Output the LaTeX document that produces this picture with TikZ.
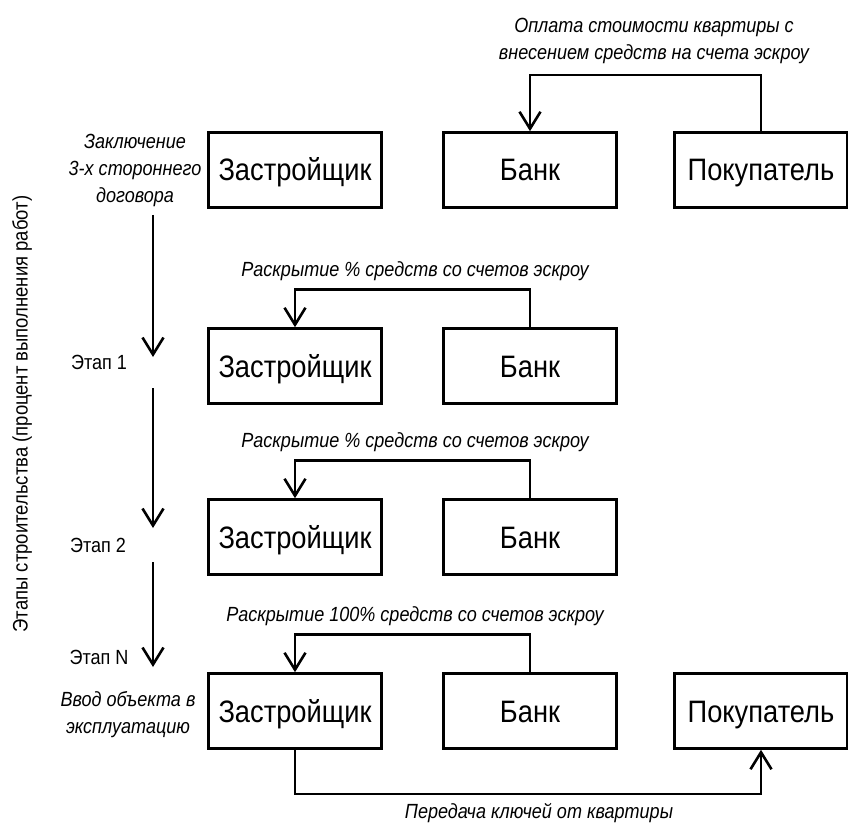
\documentclass[tikz,border=0pt]{standalone}
\usepackage{fontspec}
\setmainfont{Liberation Sans}[FakeStretch=0.88]
\usetikzlibrary{arrows.meta}

\begin{document}
\begin{tikzpicture}[x=1pt,y=-1pt,
    party/.style={draw, line width=2.6pt, minimum width=173pt, minimum height=75pt,
                  inner sep=0pt, text height=22pt, text depth=0pt, font=\fontsize{31}{34}\selectfont},
    flow/.style={line width=2.6pt, -{Straight Barb[length=17pt,width=21pt]}},
    note/.style={inner sep=0pt, align=center, font=\fontsize{20.5}{27}\selectfont\itshape},
    stage/.style={inner sep=0pt, font=\fontsize{20.5}{24}\selectfont}]
    % Parameters
    \def\xdev{295}
    \def\xbank{530}
    \def\xbuy{761}
    \def\xaxis{153}

    \useasboundingbox (0,0) rectangle (848,826);

    % Rotated axis title
    \node[rotate=90, inner sep=0pt, font=\fontsize{21}{24}\selectfont] (axis) at (22,414)
        {Этапы строительства (процент выполнения работ)};

    % Top row: contract
    \node[party] (dev1) at (\xdev,170) {Застройщик};
    \node[party] (bank1) at (\xbank,170) {Банк};
    \node[party] (buy1) at (\xbuy,170) {Покупатель};
    \draw[flow] (buy1.north) -- ++(0,-56) -| (bank1.north);
    \node[note] (pay) at (654,41) {Оплата стоимости квартиры с\\внесением средств на счета эскроу};
    \node[note] (deal) at (135,170) {Заключение\\3-х стороннего\\договора};

    % Stages: developer and bank
    \foreach \i/\y/\pct in {2/366/\%, 3/537/\%, 4/711/100\%} {
        \node[party] (dev\i) at (\xdev,\y) {Застройщик};
        \node[party] (bank\i) at (\xbank,\y) {Банк};
        \draw[flow] (bank\i.north) -- ++(0,-38) -| (dev\i.north);
        \node[note] (open\i) at (415,\y-95) {Раскрытие \pct{} средств со счетов эскроу};
    }

    % Stage labels and arrows
    \node[stage] (st1) at (99,362) {Этап 1};
    \node[stage] (st2) at (98,545) {Этап 2};
    \node[stage] (stN) at (99,657) {Этап N};
    \foreach \j/\ya/\yb in {1/215/357, 2/388/528, 3/562/667} {
        \coordinate (from\j) at (\xaxis,\ya);
        \coordinate (to\j) at (\xaxis,\yb);
        \draw[flow] (from\j) -- (to\j);
    }

    % Last row: handover
    \node[party] (buy4) at (\xbuy,711) {Покупатель};
    \node[note] (commis) at (128,715) {Ввод объекта в\\эксплуатацию};
    \draw[flow] (dev4.south) -- ++(0,44) -| (buy4.south);
    \node[note] (keys) at (539,813) {Передача ключей от квартиры};
\end{tikzpicture}
\end{document}
